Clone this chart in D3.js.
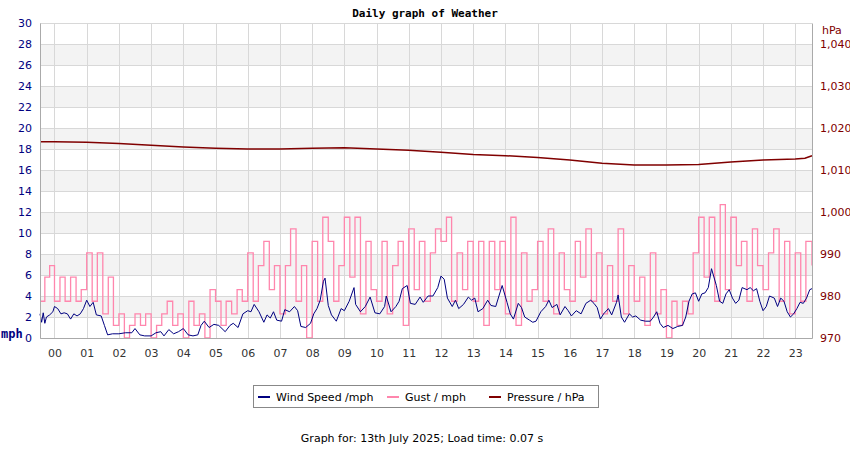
<!DOCTYPE html>
<html>
<head>
<meta charset="utf-8">
<script src="https://cdn.jsdelivr.net/npm/d3@7"></script>
<style>
body { margin: 0; background: #fff; }
svg { font-family: "DejaVu Sans", sans-serif; }
</style>
</head>
<body>
<svg id="chart" width="850" height="450"></svg>
<script>
//DATA
const hourTicks = d3.range(0, 24);
const mphTicks = d3.range(0, 31, 2);
const hpaTicks = [970, 980, 990, 1000, 1010, 1020, 1030, 1040];

// wind speed, [hour, mph]
const wind = [
  [-0.45, 2.3], [-0.4, 1.5], [-0.35, 2.4], [-0.3, 1.4], [-0.25, 2.0], [-0.15, 2.2], [-0.05, 2.5],
  [0.0, 3.0], [0.1, 2.8], [0.2, 2.3], [0.3, 2.4], [0.4, 2.3], [0.5, 1.8], [0.6, 2.3], [0.7, 2.1],
  [0.8, 2.3], [0.9, 2.8], [1.0, 3.6], [1.1, 3.0], [1.2, 3.4], [1.3, 2.2], [1.45, 2.1], [1.55, 1.2],
  [1.65, 0.3], [1.8, 0.4], [2.0, 0.4], [2.2, 0.5], [2.4, 0.5], [2.5, 0.9], [2.65, 0.3], [2.8, 0.2],
  [3.0, 0.2], [3.15, 0.5], [3.3, 0.6], [3.4, 0.2], [3.55, 0.8], [3.7, 0.4], [3.85, 0.6], [4.0, 0.9],
  [4.15, 0.3], [4.3, 0.2], [4.45, 0.3], [4.55, 1.2], [4.65, 1.6], [4.8, 1.0], [4.95, 1.3], [5.1, 1.2],
  [5.3, 0.6], [5.45, 1.2], [5.55, 1.4], [5.7, 1.0], [5.85, 2.3], [6.0, 2.6], [6.1, 2.5], [6.2, 3.2],
  [6.35, 2.5], [6.5, 1.5], [6.6, 2.2], [6.7, 1.9], [6.8, 2.5], [6.9, 1.7], [7.05, 1.6], [7.15, 2.7],
  [7.3, 2.5], [7.45, 3.0], [7.55, 2.6], [7.65, 1.1], [7.8, 1.0], [7.95, 1.4], [8.05, 2.3], [8.15, 2.8],
  [8.25, 3.6], [8.35, 5.4], [8.4, 5.7], [8.5, 3.1], [8.6, 2.2], [8.75, 1.6], [8.9, 2.8], [9.0, 2.6],
  [9.15, 3.5], [9.3, 4.8], [9.35, 3.2], [9.5, 2.5], [9.65, 3.0], [9.8, 3.9], [9.95, 2.4], [10.1, 2.3],
  [10.25, 3.0], [10.3, 4.0], [10.45, 2.5], [10.6, 3.0], [10.7, 3.5], [10.8, 4.7], [10.95, 5.0], [11.05, 3.3],
  [11.2, 3.2], [11.35, 3.9], [11.45, 3.4], [11.6, 4.0], [11.75, 4.0], [11.9, 4.8], [12.0, 5.9], [12.1, 5.6],
  [12.2, 3.8], [12.35, 3.0], [12.45, 3.6], [12.55, 2.8], [12.7, 3.2], [12.85, 3.9], [12.95, 3.6], [13.05, 3.8],
  [13.15, 2.5], [13.3, 2.8], [13.45, 3.6], [13.55, 3.1], [13.7, 3.0], [13.8, 4.0], [13.9, 5.0], [14.05, 3.4],
  [14.15, 2.3], [14.25, 1.8], [14.4, 3.3], [14.5, 2.9], [14.6, 2.0], [14.75, 1.7], [14.85, 1.5], [14.95, 1.6],
  [15.1, 2.5], [15.25, 3.0], [15.35, 3.6], [15.45, 2.9], [15.6, 3.2], [15.7, 2.2], [15.85, 3.0], [15.95, 2.6],
  [16.05, 2.1], [16.2, 2.6], [16.35, 2.3], [16.5, 3.3], [16.65, 3.6], [16.75, 3.3], [16.85, 2.9], [16.95, 1.8],
  [17.05, 2.3], [17.2, 2.8], [17.3, 2.2], [17.45, 3.4], [17.5, 4.1], [17.6, 2.0], [17.7, 1.5], [17.85, 2.3],
  [17.95, 2.0], [18.05, 2.1], [18.2, 1.7], [18.35, 1.6], [18.5, 1.6], [18.6, 2.0], [18.7, 2.5], [18.8, 1.4],
  [18.9, 1.0], [19.05, 1.2], [19.2, 0.9], [19.35, 1.1], [19.5, 1.2], [19.6, 2.0], [19.7, 3.5], [19.8, 4.2],
  [19.9, 4.3], [20.0, 3.5], [20.1, 4.2], [20.2, 4.3], [20.3, 4.8], [20.4, 6.6], [20.55, 5.0], [20.65, 3.5],
  [20.75, 3.3], [20.85, 4.2], [20.95, 4.6], [21.05, 3.8], [21.15, 3.3], [21.25, 3.6], [21.35, 4.8], [21.5, 4.6],
  [21.6, 4.8], [21.7, 4.5], [21.8, 4.7], [21.9, 3.5], [22.0, 2.6], [22.1, 3.0], [22.2, 4.0], [22.35, 3.8],
  [22.45, 3.0], [22.55, 3.8], [22.65, 3.5], [22.75, 2.5], [22.85, 2.0], [22.95, 2.3], [23.05, 2.8], [23.15, 3.4],
  [23.25, 3.3], [23.35, 3.8], [23.45, 4.6], [23.52, 4.7]
];

// gust per 10 minutes, [hour, mph]
const gust = [
  [-0.45, 3.5], [-0.3, 5.8], [-0.15, 6.9],
  [0.0, 3.5], [0.17, 5.8], [0.33, 3.5], [0.5, 5.8], [0.67, 3.5], [0.83, 4.6],
  [1.0, 8.1], [1.17, 3.5], [1.33, 8.1], [1.5, 2.3], [1.67, 5.8], [1.83, 1.2],
  [2.0, 2.3], [2.17, 0.0], [2.33, 1.2], [2.5, 2.3], [2.67, 1.2], [2.83, 2.3],
  [3.0, 0.0], [3.17, 1.2], [3.33, 2.3], [3.5, 3.5], [3.67, 1.2], [3.83, 2.3],
  [4.0, 0.0], [4.17, 3.5], [4.33, 1.2], [4.5, 2.3], [4.67, 0.0], [4.83, 4.6],
  [5.0, 3.5], [5.17, 1.2], [5.33, 3.5], [5.5, 2.3], [5.67, 4.6], [5.83, 3.5],
  [6.0, 8.1], [6.17, 3.5], [6.33, 6.9], [6.5, 9.2], [6.67, 4.6], [6.83, 6.9],
  [7.0, 2.3], [7.17, 6.9], [7.33, 10.4], [7.5, 3.5], [7.67, 6.9], [7.83, 0.0],
  [8.0, 9.2], [8.17, 3.5], [8.33, 11.5], [8.5, 9.2], [8.67, 3.5], [8.83, 6.9],
  [9.0, 11.5], [9.17, 5.8], [9.33, 11.5], [9.5, 2.3], [9.67, 9.2], [9.83, 4.6],
  [10.0, 3.5], [10.17, 9.2], [10.33, 2.3], [10.5, 6.9], [10.67, 9.2], [10.83, 1.2],
  [11.0, 10.4], [11.17, 4.6], [11.33, 9.2], [11.5, 3.5], [11.67, 8.1], [11.83, 10.4],
  [12.0, 9.2], [12.17, 11.5], [12.33, 3.5], [12.5, 8.1], [12.67, 4.6], [12.83, 9.2],
  [13.0, 3.5], [13.17, 9.2], [13.33, 1.2], [13.5, 9.2], [13.67, 4.6], [13.83, 9.2],
  [14.0, 2.3], [14.17, 11.5], [14.33, 1.2], [14.5, 8.1], [14.67, 3.5], [14.83, 4.6],
  [15.0, 9.2], [15.17, 3.5], [15.33, 10.4], [15.5, 2.3], [15.67, 8.1], [15.83, 4.6],
  [16.0, 3.5], [16.17, 9.2], [16.33, 5.8], [16.5, 10.4], [16.67, 3.5], [16.83, 8.1],
  [17.0, 2.3], [17.17, 6.9], [17.33, 3.5], [17.5, 10.4], [17.67, 2.3], [17.83, 6.9],
  [18.0, 3.5], [18.17, 5.8], [18.33, 1.2], [18.5, 8.1], [18.67, 2.3], [18.83, 4.6],
  [19.0, 0.0], [19.17, 3.5], [19.33, 1.2], [19.5, 3.5], [19.67, 2.3], [19.83, 8.1],
  [20.0, 11.5], [20.17, 5.8], [20.33, 11.5], [20.5, 3.5], [20.67, 12.7], [20.83, 4.6],
  [21.0, 11.5], [21.17, 6.9], [21.33, 9.2], [21.5, 3.5], [21.67, 10.4], [21.83, 6.9],
  [22.0, 4.6], [22.17, 8.1], [22.33, 10.4], [22.5, 3.5], [22.67, 9.2], [22.83, 2.3],
  [23.0, 8.1], [23.17, 3.5], [23.33, 9.2], [23.52, 6.9]
];

// pressure, [hour, hPa]
const pressure = [
  [-0.45, 1016.7], [0, 1016.7], [1, 1016.6], [2, 1016.3], [3, 1015.9], [4, 1015.5], [5, 1015.2],
  [6, 1015.0], [7, 1015.0], [8, 1015.2], [9, 1015.3], [10, 1015.0], [11, 1014.7], [12, 1014.2],
  [13, 1013.7], [14, 1013.4], [15, 1013.0], [16, 1012.4], [17, 1011.6], [18, 1011.2], [19, 1011.2],
  [20, 1011.3], [21, 1011.9], [22, 1012.4], [23, 1012.6], [23.3, 1012.8], [23.52, 1013.4]
];

//LAYOUT
const svg = d3.select("#chart");
const plotLeft = 40, plotRight = 812, plotTop = 23, plotBottom = 338;

const x = d3.scaleLinear().domain([-0.45, 23.52]).range([plotLeft, plotRight]);
const y = d3.scaleLinear().domain([0, 30]).range([plotBottom, plotTop]);
const yP = d3.scaleLinear().domain([970, 1045]).range([plotBottom, plotTop]);

//BANDS + GRID
svg.append("g").selectAll("rect")
  .data(mphTicks.filter(d => d % 4 === 2 && d < 30))
  .join("rect")
  .attr("x", plotLeft).attr("width", plotRight - plotLeft)
  .attr("y", d => y(d + 2)).attr("height", d => y(d) - y(d + 2))
  .attr("fill", "#f3f3f3");

svg.append("g").selectAll("line")
  .data(mphTicks)
  .join("line")
  .attr("x1", plotLeft).attr("x2", plotRight)
  .attr("y1", d => y(d) + 0.5).attr("y2", d => y(d) + 0.5)
  .attr("stroke", "#d8d8d8");

svg.append("g").selectAll("line")
  .data(hourTicks)
  .join("line")
  .attr("x1", d => Math.round(x(d)) + 0.5).attr("x2", d => Math.round(x(d)) + 0.5)
  .attr("y1", plotTop).attr("y2", plotBottom)
  .attr("stroke", "#d8d8d8");

//LINES
const lineW = d3.line().x(d => x(d[0])).y(d => y(d[1]));
const lineG = d3.line().x(d => x(d[0])).y(d => y(d[1])).curve(d3.curveStepAfter);
const lineP = d3.line().x(d => x(d[0])).y(d => yP(d[1]));

svg.append("path").attr("d", lineG(gust))
  .attr("fill", "none").attr("stroke", "#ff86ad").attr("stroke-width", 1.3);
svg.append("path").attr("d", lineW(wind))
  .attr("fill", "none").attr("stroke", "#000080").attr("stroke-width", 1);
svg.append("path").attr("d", lineP(pressure))
  .attr("fill", "none").attr("stroke", "#800000").attr("stroke-width", 1.5);

//AXES
const axL = svg.append("g").attr("transform", `translate(${plotLeft},0)`)
  .call(d3.axisLeft(y).tickValues(mphTicks).tickSize(0).tickPadding(8));
const axR = svg.append("g").attr("transform", `translate(${plotRight},0)`)
  .call(d3.axisRight(yP).tickValues(hpaTicks).tickSize(0).tickPadding(8));
const axB = svg.append("g").attr("transform", `translate(0,${plotBottom})`)
  .call(d3.axisBottom(x).tickValues(hourTicks).tickSize(0).tickPadding(11)
    .tickFormat(d => String(d).padStart(2, "0")));

axL.select(".domain").attr("stroke", "#aaa");
axR.select(".domain").attr("stroke", "#aaa");
axB.select(".domain").attr("stroke", "#aaa");
axL.selectAll("text").attr("fill", "#000080").attr("font-size", 11).attr("font-family", "DejaVu Sans");
axR.selectAll("text").attr("fill", "#800000").attr("font-size", 11).attr("font-family", "DejaVu Sans");
axB.selectAll("text").attr("fill", "#333").attr("font-size", 11).attr("font-family", "DejaVu Sans");

//TEXTS
svg.append("text").attr("x", 425).attr("y", 17).attr("text-anchor", "middle")
  .attr("font-family", "DejaVu Sans Mono").attr("font-weight", "bold").attr("font-size", 11)
  .text("Daily graph of Weather");
svg.append("text").attr("x", 1).attr("y", 338).attr("fill", "#000080")
  .attr("font-family", "DejaVu Sans Mono").attr("font-weight", "bold").attr("font-size", 12).text("mph");
svg.append("text").attr("x", 822).attr("y", 34).attr("fill", "#800000")
  .attr("font-size", 11).text("hPa");

//LEGEND
const legendItems = [["Wind Speed /mph", "#000080"], ["Gust / mph", "#ff86ad"], ["Pressure / hPa", "#800000"]];
const legendX = [258, 387, 489];
svg.append("rect").attr("x", 253.5).attr("y", 385.5).attr("width", 345).attr("height", 22)
  .attr("fill", "#fff").attr("stroke", "#888");
const lg = svg.append("g").selectAll("g").data(legendItems).join("g")
  .attr("transform", (d, i) => `translate(${legendX[i]},397)`);
lg.append("line").attr("x1", 0).attr("x2", 12).attr("stroke", d => d[1]).attr("stroke-width", 2);
lg.append("text").attr("x", 18).attr("y", 4).attr("font-size", 11).attr("fill", "#000").text(d => d[0]);

svg.append("text").attr("x", 422).attr("y", 442).attr("text-anchor", "middle")
  .attr("font-size", 11).text("Graph for: 13th July 2025; Load time: 0.07 s");
</script>
</body>
</html>
